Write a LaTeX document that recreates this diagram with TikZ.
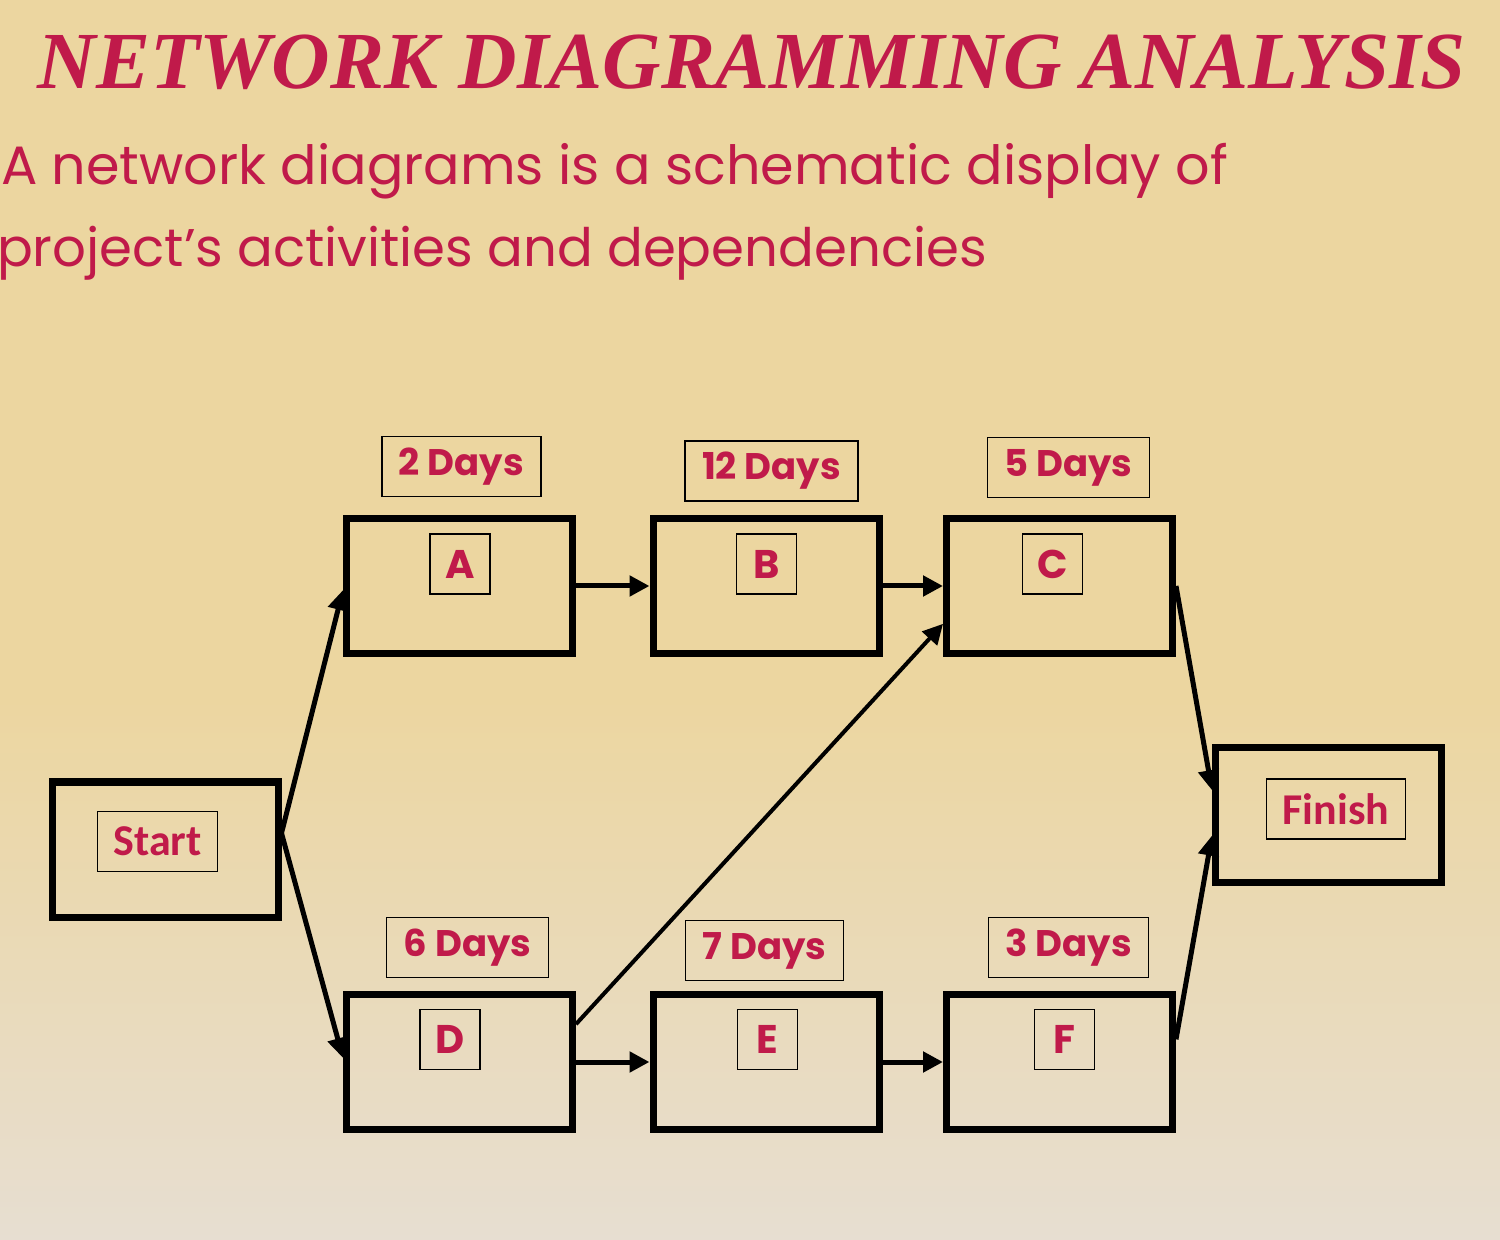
\documentclass[tikz,border=0pt]{standalone}
\usepackage{fontspec}
\usepackage{tikz}
\usetikzlibrary{arrows.meta}
\setmainfont{Poppins}
\newfontfamily\titlefont{Liberation Serif}
\newfontfamily\labelfont{Carlito}
\definecolor{crimson}{RGB}{192,26,74}
\definecolor{parch}{RGB}{236,214,160}
\definecolor{parchlow}{RGB}{231,222,209}

\begin{document}
\begin{tikzpicture}[x=0.5pt, y=-0.5pt,
  task/.style={rectangle, draw=black, line width=3.5pt, minimum width=113pt, minimum height=67.5pt},
  tag/.style={rectangle, draw=black, line width=0.7pt, text=crimson, font=\fontsize{18.5}{22}\selectfont\bfseries, minimum height=30pt, inner xsep=8.5pt},
  letter/.style={tag, minimum width=30pt, inner xsep=0pt, font=\fontsize{20}{22}\selectfont\bfseries},
  link/.style={line width=2.5pt, -{Triangle[length=10pt, width=10pt]}}]
  % background
  \fill[parch] (0,0) rectangle (1500,700);
  \shade[top color=parch, bottom color=parchlow] (0,699) rectangle (1500,1240);
  \useasboundingbox (0,0) rectangle (1500,1240);
  % heading
  \node[text=crimson, font=\titlefont\fontsize{40.5}{46}\selectfont\bfseries\itshape] (title) at (752,62) {NETWORK DIAGRAMMING ANALYSIS};
  \node[anchor=base west, text=crimson, font=\fontsize{27}{30}\selectfont] (line1) at (-6,185) {A network diagrams is a schematic display of};
  \node[anchor=base west, text=crimson, font=\fontsize{26.5}{30}\selectfont] (line2) at (-10,267) {project’s activities and dependencies};
  % activity boxes
  \node[task] (Start) at (165,849.5) {};
  \node[task] (A) at (459.5,586) {};
  \node[task] (B) at (766,586) {};
  \node[task] (C) at (1059.5,586) {};
  \node[task] (Finish) at (1328.5,815) {};
  \node[task] (D) at (459.5,1062) {};
  \node[task] (E) at (766,1062) {};
  \node[task] (F) at (1059.5,1062) {};
  % names
  \node[tag, font=\labelfont\fontsize{22}{24}\selectfont\bfseries, inner xsep=8pt] (startname) at (157.5,841.5) {Start};
  \node[tag, font=\labelfont\fontsize{22}{24}\selectfont\bfseries, inner xsep=8pt] (finishname) at (1336,809) {Finish};
  \node[letter] (Aname) at (460,564) {A};
  \node[letter] (Bname) at (766.5,564) {B};
  \node[letter] (Cname) at (1052.5,564) {C};
  \node[letter] (Dname) at (450,1039.5) {D};
  \node[letter] (Ename) at (767.5,1039.5) {E};
  \node[letter] (Fname) at (1064.5,1039.5) {F};
  % durations
  \node[tag] (Adays) at (461.5,466.5) {2 Days};
  \node[tag] (Bdays) at (771.5,471) {12 Days};
  \node[tag] (Cdays) at (1068.5,467.5) {5 Days};
  \node[tag] (Ddays) at (467.5,947.5) {6 Days};
  \node[tag] (Edays) at (764.5,950.5) {7 Days};
  \node[tag] (Fdays) at (1068.5,947.5) {3 Days};
  % dependencies
  \draw[link] (Start.8) -- (A.182);
  \draw[link] (Start.8) -- (D.178);
  \draw[link] (A) -- (B);
  \draw[link] (B) -- (C);
  \draw[link] (D) -- (E);
  \draw[link] (E) -- (F);
  \draw[link, line width=2pt] (D.18) -- (C.198);
  \draw[link] (C.east) -- (Finish.168);
  \draw[link] (F.11) -- (Finish.190);
\end{tikzpicture}
\end{document}
